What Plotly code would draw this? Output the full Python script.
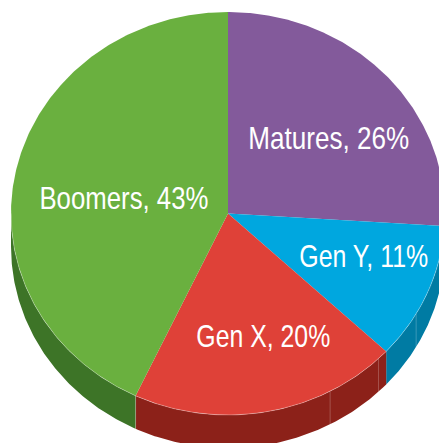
import numpy as np
import plotly.graph_objects as go

# Data
categories = ["Matures", "Gen Y", "Gen X", "Boomers"]
shares = [26, 11, 20, 43]

# Styles
top_colors = ["#835A9B", "#00A7DF", "#DF4138", "#6AB03F"]
side_colors = ["#5E3F70", "#007BA3", "#8C2119", "#3D7427"]
label_pos = [(328.5, 138), (363.5, 255.5), (263, 335.5), (123.5, 197.5)]
label_widths = [161, 129, 134, 169]
seam_fractions = [33.3, 37.8, 42.2]

W, H = 439, 443
CX, CY, RX, RY, DEPTH = 228, 213.5, 217, 201.5, 33


def arc(f0, f1, n=120):
    t = np.radians(np.linspace(f0, f1, n) * 3.6)
    return CX + RX * np.sin(t), CY - RY * np.cos(t)


fig = go.Figure()
edges = np.concatenate([[0], np.cumsum(shares)])

# Extruded side (only the part of the rim that faces the viewer, 25%-75%)
for i, c in enumerate(side_colors):
    a, b = max(edges[i], 25), min(edges[i + 1], 75)
    if b <= a:
        continue
    x, y = arc(a, b)
    fig.add_trace(go.Scatter(
        x=np.concatenate([x, x[::-1]]),
        y=np.concatenate([y, y[::-1] + DEPTH]),
        fill="toself", fillcolor=c, mode="lines", line=dict(width=0),
        hoverinfo="skip", showlegend=False))

# Faint seams on the side wall
for f in seam_fractions + [edges[3]]:
    x, y = arc(f, f, 2)
    fig.add_trace(go.Scatter(
        x=x, y=[y[0], y[0] + DEPTH], mode="lines",
        line=dict(color="rgba(255,255,255,0.22)", width=1),
        hoverinfo="skip", showlegend=False))

# Top faces
for i, c in enumerate(top_colors):
    x, y = arc(edges[i], edges[i + 1], 240)
    fig.add_trace(go.Scatter(
        x=np.concatenate([[CX], x, [CX]]),
        y=np.concatenate([[CY], y, [CY]]),
        fill="toself", fillcolor=c, mode="lines", line=dict(width=0),
        name=categories[i], hoverinfo="name", showlegend=False))

# Light rim between top face and wall
x, y = arc(25, 75, 300)
fig.add_trace(go.Scatter(
    x=x, y=y, mode="lines",
    line=dict(color="rgba(255,255,255,0.3)", width=1),
    hoverinfo="skip", showlegend=False))

# Labels
for cat, s, (lx, ly) in zip(categories, shares, label_pos):
    fig.add_annotation(
        x=lx, y=ly, text=f"{cat}, {s}%", showarrow=False,
        font=dict(family="Liberation Sans", size=32, color="white"))

fig.update_layout(
    width=W, height=H, margin=dict(l=0, r=0, t=0, b=0),
    paper_bgcolor="white", plot_bgcolor="white", showlegend=False,
    xaxis=dict(range=[0, W], visible=False, fixedrange=True),
    yaxis=dict(range=[H, 0], visible=False, fixedrange=True),
)
# Condense the label glyphs (no narrow face is installed)
post = """
document.body.style.margin='0';
var widths = %s;
document.querySelectorAll('.annotation-text').forEach(function(t, i){
  var k = widths[i] / t.getComputedTextLength();
  var cx = parseFloat(t.getAttribute('x')) || 0;
  var old = t.getAttribute('transform') || '';
  t.setAttribute('transform', old + ' translate(' + cx + ',0) scale(' + k + ',1) translate(' + (-cx) + ',0)');
});
""" % label_widths
fig.write_html("out.html", config={"displayModeBar": False}, post_script=post)
